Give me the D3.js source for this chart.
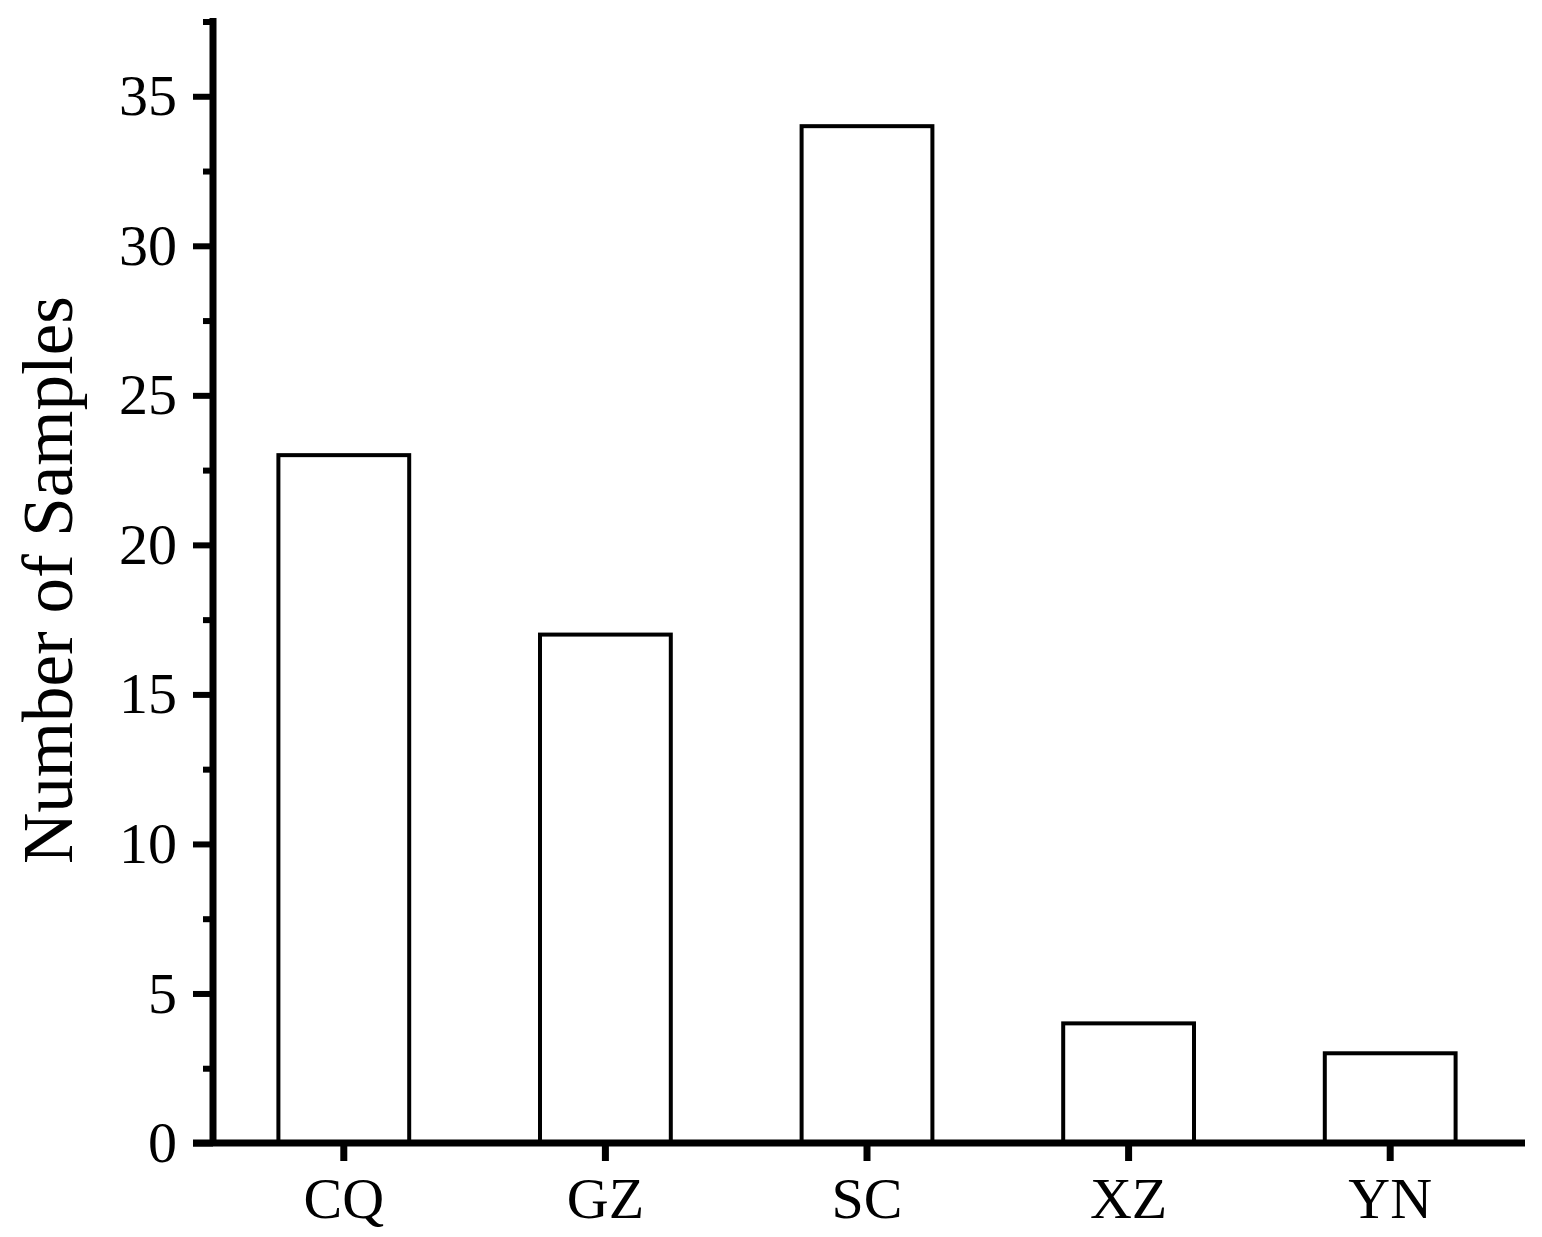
<!doctype html>
<html lang="en">
<head>
  <meta charset="utf-8" />
  <title>Number of Samples</title>
  <script src="https://d3js.org/d3.v7.min.js"></script>
  <style>
    body { margin: 0; background: #fff; }
    svg text { font-family: "Liberation Serif", "Times New Roman", serif; fill: #000; }
  </style>
</head>
<body>
<script type="text/javascript">

  // data
  var regions = ["CQ", "GZ", "SC", "XZ", "YN"];
  var counts = [23, 17, 34, 4, 3];
  var yTicks = [0, 5, 10, 15, 20, 25, 30, 35];
  var yMinorTicks = [2.5, 7.5, 12.5, 17.5, 22.5, 27.5, 32.5, 37.5];
  var yTitle = "Number of Samples";

  var width = 1542, height = 1237;
  var x0 = 213, x1 = 1521, y0 = 1143, yTop = 21.5;

  var svg = d3.select("body").append("svg")
    .attr("width", width)
    .attr("height", height);

  var x = d3.scaleBand()
    .domain(regions)
    .range([x0, x1])
    .paddingInner(0.5)
    .paddingOuter(0.25);

  var y = d3.scaleLinear()
    .domain([0, 37.5])
    .range([y0, yTop]);

  // bars
  svg.append("g")
    .selectAll("rect")
    .data(regions)
    .enter().append("rect")
      .attr("x", function(d) { return x(d); })
      .attr("y", function(d, i) { return y(counts[i]); })
      .attr("width", x.bandwidth())
      .attr("height", function(d, i) { return y0 - y(counts[i]); })
      .attr("fill", "#fff")
      .attr("stroke", "#000")
      .attr("stroke-width", 4);

  // y minor ticks
  svg.append("g")
    .attr("transform", "translate(" + x0 + ",0)")
    .call(d3.axisLeft(y).tickValues(yMinorTicks).tickSize(10).tickFormat(""))
    .call(function(g) { g.select(".domain").remove(); })
    .selectAll("line").attr("stroke-width", 6);

  // y axis
  var yAxis = svg.append("g")
    .attr("transform", "translate(" + x0 + ",0)")
    .call(d3.axisLeft(y).tickValues(yTicks).tickSize(20).tickPadding(16));
  yAxis.select(".domain").remove();
  yAxis.selectAll("line").attr("stroke-width", 6);
  yAxis.selectAll("text").attr("font-size", 58).style("font-family", "'Liberation Serif', serif");

  // x axis
  var xAxis = svg.append("g")
    .attr("transform", "translate(0," + y0 + ")")
    .call(d3.axisBottom(x).tickSize(18).tickPadding(16));
  xAxis.select(".domain").remove();
  xAxis.selectAll("line").attr("stroke-width", 7);
  xAxis.selectAll("text").attr("font-size", 58).style("font-family", "'Liberation Serif', serif");

  // axis lines
  svg.append("line")
    .attr("x1", x0).attr("x2", x0)
    .attr("y1", y0).attr("y2", 18)
    .attr("stroke", "#000").attr("stroke-width", 7);
  svg.append("line")
    .attr("x1", 193).attr("x2", 1525)
    .attr("y1", y0).attr("y2", y0)
    .attr("stroke", "#000").attr("stroke-width", 7);

  // y title
  svg.append("text")
    .attr("transform", "translate(72,580) rotate(-90)")
    .attr("text-anchor", "middle")
    .attr("font-size", 71)
    .text(yTitle);

</script>
</body>
</html>
